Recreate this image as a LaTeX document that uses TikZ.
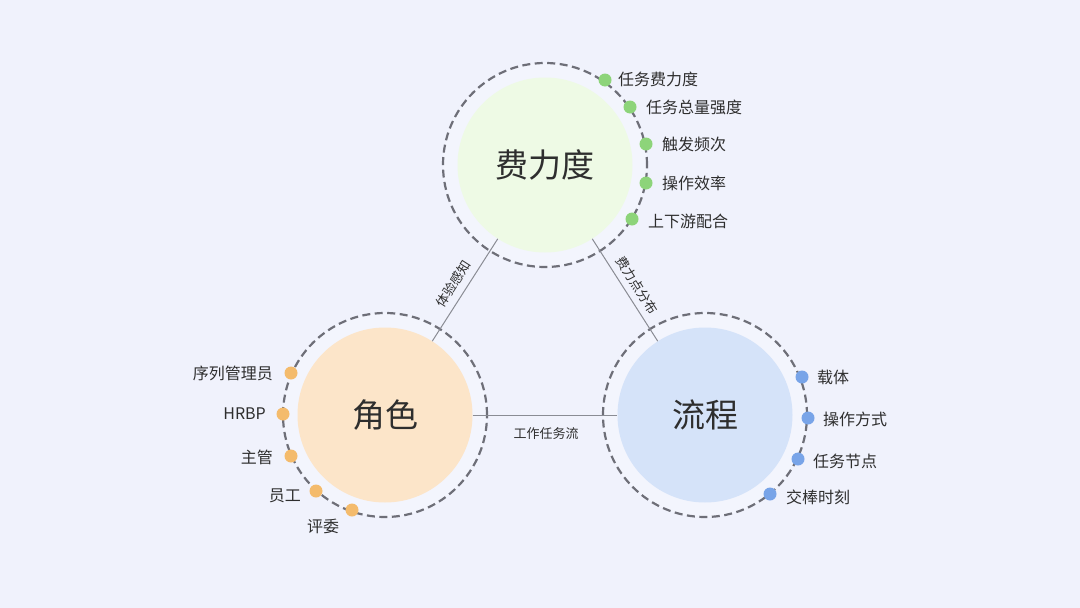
\documentclass[tikz,border=0pt]{standalone}
\usepackage{fontspec}
\setmainfont{Noto Sans CJK SC}
\definecolor{bg}{HTML}{F0F2FC}
\definecolor{ringin}{HTML}{F3F5FD}
\definecolor{ringc}{HTML}{6E6F78}
\definecolor{gfill}{HTML}{EEFAE5}
\definecolor{ofill}{HTML}{FCE5C9}
\definecolor{bfill}{HTML}{D5E3F9}
\definecolor{gdotc}{HTML}{8DD47A}
\definecolor{odotc}{HTML}{F4BB6C}
\definecolor{bdotc}{HTML}{78A4E8}
\definecolor{txt}{HTML}{2E2E2E}
\definecolor{linec}{HTML}{8A8C94}
\begin{document}
\begin{tikzpicture}[x=1pt,y=-1pt,
  ring/.style={circle,draw=ringc,fill=ringin,line width=2.2pt,dash pattern=on 8pt off 4.5pt,minimum size=204pt,inner sep=0pt},
  core/.style={circle,minimum size=175pt,inner sep=0pt,text=txt,font=\fontsize{33}{33}\selectfont},
  dotg/.style={circle,fill=gdotc,minimum size=13pt,inner sep=0pt},
  doto/.style={circle,fill=odotc,minimum size=13pt,inner sep=0pt},
  dotb/.style={circle,fill=bdotc,minimum size=13pt,inner sep=0pt},
  item/.style={text=txt,inner sep=0pt,font=\fontsize{16}{16}\selectfont},
  conn/.style={draw=linec,line width=1pt},
  clab/.style={text=txt,inner sep=0pt,font=\fontsize{13}{13}\selectfont}]
\fill[bg] (0,0) rectangle (1080,608);
\useasboundingbox (0,0) rectangle (1080,608);
% rings
\node[ring] (r1) at (545,165) {};
\node[ring] (r2) at (385,415) {};
\node[ring] (r3) at (705,415) {};
% cores
\node[core,fill=gfill] (fl) at (545,165) {费力度};
\node[core,fill=ofill] (js) at (385,415) {角色};
\node[core,fill=bfill] (lc) at (705,415) {流程};
% connectors
\draw[conn] (fl) -- (js);
\draw[conn] (fl) -- (lc);
\draw[conn] (js) -- (lc);
\node[clab,rotate=57.4] (l1) at (453,284) {体验感知};
\node[clab,rotate=-57.4] (l2) at (637,285) {费力点分布};
\node[clab] (l3) at (546,434) {工作任务流};
% green items
\node[dotg] (g1) at (605,80) {};
\node[item,anchor=west] (g1t) at (618,79) {任务费力度};
\node[dotg] (g2) at (630,107) {};
\node[item,anchor=west] (g2t) at (646,107) {任务总量强度};
\node[dotg] (g3) at (646,144) {};
\node[item,anchor=west] (g3t) at (662,144) {触发频次};
\node[dotg] (g4) at (646,183) {};
\node[item,anchor=west] (g4t) at (662,183) {操作效率};
\node[dotg] (g5) at (632,219) {};
\node[item,anchor=west] (g5t) at (648,221) {上下游配合};
% orange items
\node[doto] (o1) at (291,373) {};
\node[item,anchor=east] (o1t) at (273,373) {序列管理员};
\node[doto] (o2) at (283,414) {};
\node[item,anchor=east] (o2t) at (266,414) {HRBP};
\node[doto] (o3) at (291,456) {};
\node[item,anchor=east] (o3t) at (273,457) {主管};
\node[doto] (o4) at (316,491) {};
\node[item,anchor=east] (o4t) at (301,496) {员工};
\node[doto] (o5) at (352,510) {};
\node[item] (o5t) at (323,526) {评委};
% blue items
\node[dotb] (b1) at (802,377) {};
\node[item,anchor=west] (b1t) at (817,377) {载体};
\node[dotb] (b2) at (808,418) {};
\node[item,anchor=west] (b2t) at (823,419) {操作方式};
\node[dotb] (b3) at (798,459) {};
\node[item,anchor=west] (b3t) at (813,461) {任务节点};
\node[dotb] (b4) at (770,494) {};
\node[item,anchor=west] (b4t) at (786,497) {交棒时刻};
\end{tikzpicture}
\end{document}
